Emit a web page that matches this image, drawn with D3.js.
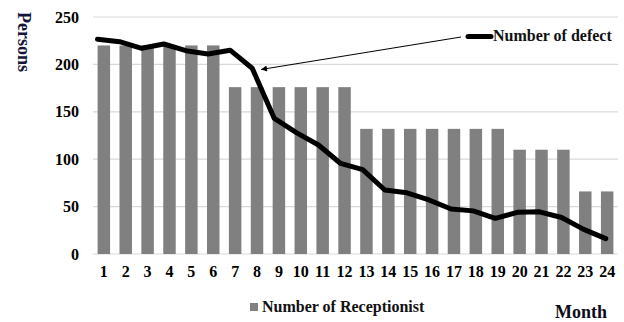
<!DOCTYPE html>
<html><head><meta charset="utf-8">
<script src="https://cdn.jsdelivr.net/npm/d3@7"></script>
<style>body{margin:0;background:#fff}svg{display:block}text{font-family:"Liberation Serif","Times New Roman",serif;font-weight:bold}</style>
</head><body><svg id="c" width="624" height="322"></svg>
<script>
const months = ["1","2","3","4","5","6","7","8","9","10","11","12","13","14","15","16","17","18","19","20","21","22","23","24"];
const receptionists = [220,220,220,220,220,220,176,176,176,176,176,176,132,132,132,132,132,132,132,110,110,110,66,66];
const defects = [226.5,224,217,221.5,214.5,211,215,196,143,128,115,95.5,89,67.5,64.5,57,47.5,45.5,37.6,44,44.5,38.5,26,16.2];
const yTicks = [0,50,100,150,200,250];

const svg = d3.select("#c");
const L = 93, R = 618, T = 17, B = 254;
const x = d3.scaleBand().domain(months).range([L, R]).paddingInner(0.43).paddingOuter(0.21);
const xl = d3.scalePoint().domain(months).range([97.5, 605.8]);
const y = d3.scaleLinear().domain([0, 250]).range([B, T]);

// gridlines
svg.append("g").selectAll("line").data(yTicks).join("line")
  .attr("x1", L).attr("x2", R).attr("y1", d => y(d)).attr("y2", d => y(d))
  .attr("stroke", "#d9d9d9").attr("stroke-width", 1.2);

// y axis labels
const ya = svg.append("g").attr("transform", `translate(${79},0)`)
  .call(d3.axisLeft(y).tickValues(yTicks).tickSize(0).tickPadding(0));
ya.select(".domain").remove();
ya.selectAll("text").attr("font-size", 16).attr("fill", "#000")
  .style("font-family", '"Liberation Serif",serif').style("font-weight", "bold");

// x axis labels
const xa = svg.append("g").attr("transform", `translate(0,${B})`)
  .call(d3.axisBottom(x).tickSize(0).tickPadding(12));
xa.select(".domain").remove();
xa.selectAll("text").attr("font-size", 16).attr("fill", "#000")
  .style("font-family", '"Liberation Serif",serif').style("font-weight", "bold");

// bars
svg.append("g").selectAll("rect").data(receptionists).join("rect")
  .attr("x", (d, i) => x(months[i])).attr("width", x.bandwidth())
  .attr("y", d => y(d)).attr("height", d => B - y(d))
  .attr("fill", "#808080");

// line
svg.append("path").datum(defects)
  .attr("d", d3.line().x((d, i) => xl(months[i])).y(d => y(d)))
  .attr("fill", "none").attr("stroke", "#000").attr("stroke-width", 5)
  .attr("stroke-linejoin", "round").attr("stroke-linecap", "round");

// arrow annotation
svg.append("defs").append("marker").attr("id", "ah")
  .attr("viewBox", "0 0 10 10").attr("refX", 10).attr("refY", 5)
  .attr("markerWidth", 10).attr("markerHeight", 6).attr("orient", "auto")
  .attr("markerUnits", "userSpaceOnUse")
  .append("path").attr("d", "M0,0 L10,5 L0,10 z").attr("fill", "#000");
svg.append("line").attr("x1", 461).attr("y1", 37).attr("x2", 261).attr("y2", 69.5)
  .attr("stroke", "#000").attr("stroke-width", 1).attr("marker-end", "url(#ah)");

// line legend
svg.append("line").attr("x1", 468).attr("x2", 491).attr("y1", 36.5).attr("y2", 36.5)
  .attr("stroke", "#000").attr("stroke-width", 5).attr("stroke-linecap", "round");
svg.append("text").attr("x", 493).attr("y", 41).attr("font-size", 16).attr("fill", "#111")
  .text("Number of defect");

// bar legend
svg.append("rect").attr("x", 250).attr("y", 303).attr("width", 8).attr("height", 8).attr("fill", "#808080");
svg.append("text").attr("x", 262).attr("y", 312).attr("font-size", 16).attr("fill", "#111")
  .text("Number of Receptionist");

// axis titles
svg.append("text").attr("x", 555).attr("y", 318).attr("font-size", 18).attr("fill", "#0d0d1a")
  .text("Month");
svg.append("text").attr("transform", "translate(18,12) rotate(90)").attr("font-size", 18)
  .attr("fill", "#14143c").text("Persons");
</script></body></html>
